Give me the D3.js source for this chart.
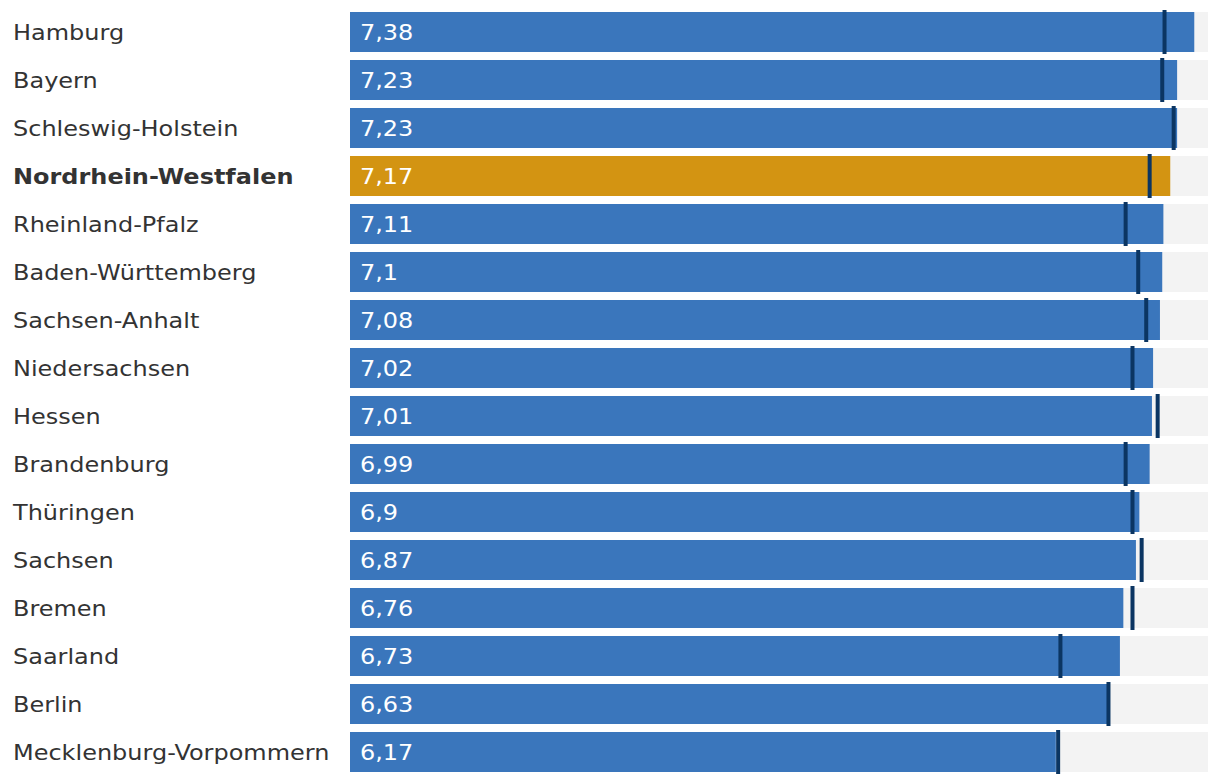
<!DOCTYPE html>
<html>
<head>
<meta charset="utf-8">
<script src="https://cdn.jsdelivr.net/npm/d3@7"></script>
<style>
  html, body { margin: 0; padding: 0; background: #ffffff; }
  svg { display: block; }
</style>
</head>
<body>
<svg id="chart" width="1220" height="784"></svg>
<script>
const categories = ["Hamburg", "Bayern", "Schleswig-Holstein", "Nordrhein-Westfalen", "Rheinland-Pfalz",
  "Baden-Württemberg", "Sachsen-Anhalt", "Niedersachsen", "Hessen", "Brandenburg", "Thüringen",
  "Sachsen", "Bremen", "Saarland", "Berlin", "Mecklenburg-Vorpommern"];
const values = [7.38, 7.23, 7.23, 7.17, 7.11, 7.1, 7.08, 7.02, 7.01, 6.99, 6.9, 6.87, 6.76, 6.73, 6.63, 6.17];
const markers = [7.12, 7.10, 7.20, 6.99, 6.78, 6.89, 6.96, 6.84, 7.06, 6.78, 6.84, 6.92, 6.84, 6.21, 6.63, 6.19];
const highlight = "Nordrhein-Westfalen";
const domainMax = 7.5;

const svg = d3.select("#chart");
const x = d3.scaleLinear().domain([0, domainMax]).range([350, 1208]);
const step = 48, gap = 8;
const y = d3.scaleBand().domain(categories)
  .range([12, 12 + step * categories.length - gap])
  .paddingInner(gap / step).paddingOuter(0);

const data = categories.map((c, i) => ({ c, v: values[i], m: markers[i] }));
const fmt = v => String(v).replace(".", ",");
const font = "'DejaVu Sans', Verdana, sans-serif";
const sx = 1.09;

const rows = svg.selectAll("g.row").data(data).enter().append("g")
  .attr("class", "row")
  .attr("transform", d => `translate(0,${y(d.c)})`);

const bh = y.bandwidth();

rows.append("rect")
  .attr("x", x(0)).attr("y", 0)
  .attr("width", x(domainMax) - x(0)).attr("height", bh)
  .attr("fill", "#f3f3f3");

rows.append("rect")
  .attr("x", x(0)).attr("y", 0)
  .attr("width", d => x(d.v) - x(0)).attr("height", bh)
  .attr("fill", d => d.c === highlight ? "#d39412" : "#3a76bc");

rows.append("rect")
  .attr("x", d => x(d.m) - 2).attr("y", -2)
  .attr("width", 4).attr("height", bh + 4)
  .attr("fill", "#0b3562");

rows.append("text")
  .attr("transform", `translate(13,${bh / 2}) scale(${sx},1)`)
  .attr("dy", "0.35em")
  .attr("font-family", font).attr("font-size", 22)
  .attr("font-weight", d => d.c === highlight ? "bold" : "normal")
  .attr("fill", "#333333")
  .text(d => d.c);

rows.append("text")
  .attr("transform", `translate(360,${bh / 2}) scale(${sx},1)`)
  .attr("dy", "0.35em")
  .attr("font-family", font).attr("font-size", 22)
  .attr("fill", "#ffffff")
  .text(d => fmt(d.v));
</script>
</body>
</html>
